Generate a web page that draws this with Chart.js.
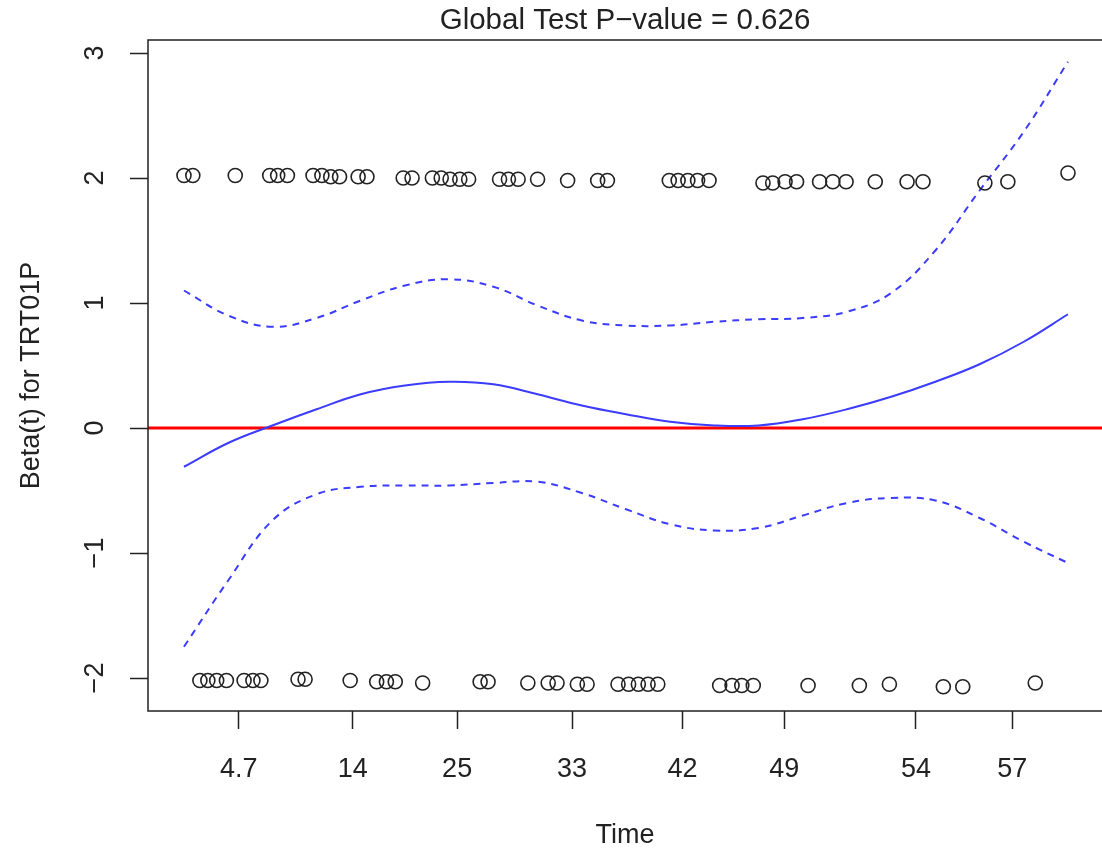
<!DOCTYPE html>
<html>
<head>
<meta charset="utf-8">
<script src="https://cdn.jsdelivr.net/npm/chart.js@4.4.1/dist/chart.umd.min.js"></script>
<style>
  html, body { margin: 0; padding: 0; background: #fff; }
</style>
</head>
<body>
<canvas id="zph" width="1102" height="857"></canvas>
<script>
// Scaled Schoenfeld residuals for TRT01P, x on the KM-transformed time scale
const upperX = [0, 0.010, 0.058, 0.097, 0.106, 0.117, 0.146, 0.156, 0.166, 0.176, 0.197, 0.207,
  0.248, 0.258, 0.281, 0.291, 0.301, 0.312, 0.322, 0.357, 0.367, 0.378, 0.400, 0.434, 0.468, 0.479,
  0.549, 0.559, 0.570, 0.581, 0.594, 0.655, 0.666, 0.680, 0.693, 0.719, 0.734, 0.749, 0.782, 0.818,
  0.836, 0.906, 0.932, 1.000];
const upperY = [2.02, 2.02, 2.02, 2.02, 2.02, 2.02, 2.02, 2.02, 2.01, 2.01, 2.01, 2.01,
  2.00, 2.00, 2.00, 2.00, 1.99, 1.99, 1.99, 1.99, 1.99, 1.99, 1.99, 1.98, 1.98, 1.98,
  1.98, 1.98, 1.98, 1.98, 1.98, 1.96, 1.96, 1.97, 1.97, 1.97, 1.97, 1.97, 1.97, 1.97,
  1.97, 1.96, 1.97, 2.04];
const lowerX = [0.018, 0.027, 0.037, 0.048, 0.068, 0.078, 0.087, 0.129, 0.137, 0.188, 0.218, 0.229,
  0.239, 0.270, 0.335, 0.344, 0.389, 0.412, 0.422, 0.445, 0.456, 0.491, 0.503, 0.514, 0.525, 0.536,
  0.606, 0.620, 0.631, 0.644, 0.706, 0.764, 0.798, 0.859, 0.881, 0.963];
const lowerY = [-2.02, -2.02, -2.02, -2.02, -2.02, -2.02, -2.02, -2.01, -2.01, -2.02, -2.03, -2.03,
  -2.03, -2.04, -2.03, -2.03, -2.04, -2.04, -2.04, -2.05, -2.05, -2.05, -2.05, -2.05, -2.05, -2.05,
  -2.06, -2.06, -2.06, -2.06, -2.06, -2.06, -2.05, -2.07, -2.07, -2.04];

// Smoothed beta(t) with its pointwise confidence band
const gridX = [0, 0.05, 0.10, 0.15, 0.20, 0.25, 0.30, 0.35, 0.40, 0.45, 0.50,
  0.55, 0.60, 0.65, 0.70, 0.75, 0.80, 0.85, 0.90, 0.95, 1.00];
const fitY = [-0.31, -0.12, 0.02, 0.15, 0.27, 0.34, 0.37, 0.35, 0.27, 0.18, 0.11,
  0.05, 0.02, 0.02, 0.07, 0.15, 0.25, 0.37, 0.51, 0.69, 0.91];
const ciUpper = [1.10, 0.90, 0.81, 0.88, 1.02, 1.14, 1.19, 1.13, 0.98, 0.86, 0.82,
  0.82, 0.85, 0.87, 0.88, 0.93, 1.08, 1.42, 1.90, 2.37, 2.93];
const ciLower = [-1.75, -1.22, -0.74, -0.53, -0.47, -0.46, -0.46, -0.44, -0.43, -0.52, -0.65,
  -0.77, -0.82, -0.80, -0.70, -0.60, -0.56, -0.58, -0.72, -0.91, -1.08];

// Tick marks: position on the transformed scale and the original time
const timeTicks = [0.062, 0.191, 0.309, 0.439, 0.564, 0.679, 0.828, 0.937];
const timeLabels = ['4.7', '14', '25', '33', '42', '49', '54', '57'];
const betaTicks = [-2, -1, 0, 1, 2, 3];

const X_MIN = -0.0407, X_MAX = 1.0385;
const Y_MIN = -2.264, Y_MAX = 3.104;

const FONT = "'Liberation Sans', Arial, sans-serif";
const INK = '#222';
const BLUE = '#3c3cff';

const pts = (xs, ys) => xs.map((x, i) => ({ x, y: ys[i] }));

// frame around the plotting region (right edge runs off the canvas)
const frame = {
  id: 'frame',
  afterDraw(chart) {
    const { ctx, chartArea: a } = chart;
    ctx.save();
    ctx.strokeStyle = INK;
    ctx.lineWidth = 1.5;
    ctx.beginPath();
    ctx.moveTo(a.right + 2, a.top);
    ctx.lineTo(a.left, a.top);
    ctx.lineTo(a.left, a.bottom);
    ctx.lineTo(a.right + 2, a.bottom);
    ctx.stroke();
    ctx.restore();
  }
};

// y tick labels written sideways (las = 0)
const betaLabels = {
  id: 'betaLabels',
  afterDraw(chart) {
    const { ctx } = chart;
    const y = chart.scales.y;
    ctx.save();
    ctx.font = '27px ' + FONT;
    ctx.fillStyle = INK;
    ctx.textAlign = 'center';
    ctx.textBaseline = 'middle';
    y.ticks.forEach(t => {
      ctx.save();
      ctx.translate(y.right - 52, y.getPixelForValue(t.value));
      ctx.rotate(-Math.PI / 2);
      ctx.fillText(String(t.value).replace('-', '\u2212'), 0, 0);
      ctx.restore();
    });
    ctx.restore();
  }
};

new Chart(document.getElementById('zph'), {
  type: 'scatter',
  data: {
    datasets: [
      {
        data: pts(upperX, upperY),
        pointRadius: 7, pointHoverRadius: 7,
        borderColor: INK, backgroundColor: 'transparent', borderWidth: 1.6
      },
      {
        data: pts(lowerX, lowerY),
        pointRadius: 7, pointHoverRadius: 7,
        borderColor: INK, backgroundColor: 'transparent', borderWidth: 1.6
      },
      {
        data: pts(gridX, fitY),
        showLine: true, pointRadius: 0, tension: 0.4,
        borderColor: BLUE, borderWidth: 2
      },
      {
        data: pts(gridX, ciUpper),
        showLine: true, pointRadius: 0, tension: 0.4,
        borderColor: BLUE, borderWidth: 2, borderDash: [7, 6]
      },
      {
        data: pts(gridX, ciLower),
        showLine: true, pointRadius: 0, tension: 0.4,
        borderColor: BLUE, borderWidth: 2, borderDash: [7, 6]
      },
      {
        // reference line at beta = 0
        data: [{ x: X_MIN, y: 0 }, { x: X_MAX, y: 0 }],
        showLine: true, pointRadius: 0,
        borderColor: '#ff0000', borderWidth: 3
      }
    ]
  },
  options: {
    responsive: false,
    animation: false,
    layout: { padding: 0, autoPadding: false },
    plugins: {
      legend: { display: false },
      tooltip: { enabled: false }
    },
    scales: {
      // top axis only carries the main title, centred over the plot
      top: {
        type: 'linear', position: 'top', display: true,
        min: X_MIN, max: X_MAX,
        afterFit: s => { s.height = 40; },
        border: { display: false },
        grid: { display: false },
        ticks: { display: false },
        title: {
          display: true, text: 'Global Test P\u2212value = 0.626', color: INK,
          font: { family: FONT, size: 29.5 },
          padding: { top: 3, bottom: 0 }
        }
      },
      x: {
        type: 'linear',
        min: X_MIN, max: X_MAX,
        afterBuildTicks: s => { s.ticks = timeTicks.map(v => ({ value: v })); },
        afterFit: s => { s.height = 146; },
        border: { display: false },
        grid: { drawOnChartArea: false, tickLength: 18, tickColor: INK, tickWidth: 1.5 },
        ticks: {
          autoSkip: false, maxRotation: 0, padding: 24,
          color: INK, font: { family: FONT, size: 27 },
          callback: v => timeLabels[timeTicks.indexOf(v)]
        },
        title: {
          display: true, text: 'Time', color: INK,
          font: { family: FONT, size: 27 },
          padding: { top: 0, bottom: 5 }
        }
      },
      y: {
        min: Y_MIN, max: Y_MAX,
        afterBuildTicks: s => { s.ticks = betaTicks.map(v => ({ value: v })); },
        afterFit: s => { s.width = 148; },
        border: { display: false },
        grid: { drawOnChartArea: false, tickLength: 18, tickColor: INK, tickWidth: 1.5 },
        ticks: { display: false },
        title: {
          display: true, text: 'Beta(t) for TRT01P', color: INK,
          font: { family: FONT, size: 27 },
          padding: { top: 15, bottom: 0 }
        }
      }
    }
  },
  plugins: [frame, betaLabels]
});
</script>
</body>
</html>
